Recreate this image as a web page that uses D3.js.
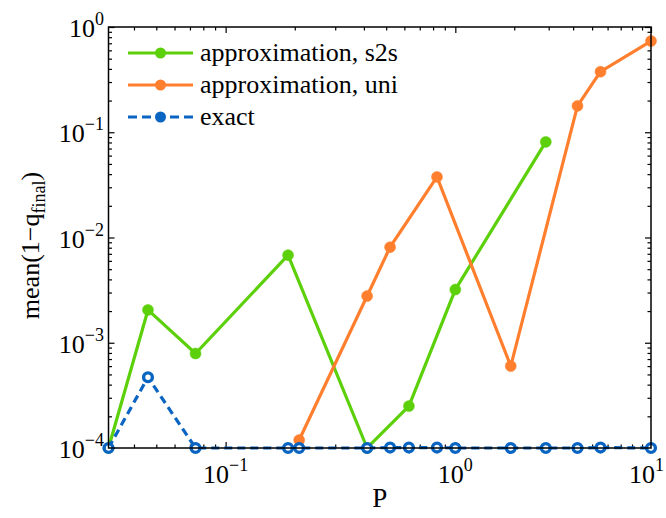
<!DOCTYPE html>
<html><head><meta charset="utf-8">
<script src="https://cdn.jsdelivr.net/npm/d3@7"></script>
<style>
body{margin:0;background:#fff;}
svg{display:block;font-family:"Liberation Serif","DejaVu Serif",serif;}
</style></head>
<body><svg id="c" width="666" height="518"></svg>
<script>
// ---- data ----
const pS2s   = [0.031, 0.046, 0.074, 0.187, 0.413, 0.628, 1.0, 2.9];
const vS2s   = [1.0e-4, 2.05e-3, 7.9e-4, 6.8e-3, 1.0e-4, 2.5e-4, 3.2e-3, 0.081];
const pUni   = [0.209, 0.413, 0.52, 0.832, 1.92, 4.21, 5.52, 10];
const vUni   = [1.19e-4, 2.78e-3, 8.1e-3, 0.0376, 6.0e-4, 0.178, 0.376, 0.736];
const pExact = [0.031, 0.046, 0.074, 0.187, 0.209, 0.413, 0.52, 0.628, 0.832, 1.0, 1.92, 2.9, 4.21, 5.52, 10];
const vExact = [1.0e-4, 4.7e-4, 1.0e-4, 1.0e-4, 1.0e-4, 1.0e-4, 1.01e-4, 1.01e-4, 1.01e-4, 1.0e-4, 1.0e-4, 1.0e-4, 1.0e-4, 1.01e-4, 1.0e-4];
const seriesNames = ["approximation, s2s", "approximation, uni", "exact"];
const xTickValues = [0.1, 1, 10];
const xTickExp = ["\u22121", "0", "1"];
const yTickValues = [1e-4, 1e-3, 1e-2, 1e-1, 1];
const yTickExp = ["\u22124", "\u22123", "\u22122", "\u22121", "0"];
const xDomain = [0.031, 0.1, 1, 10];
const yDomain = [1e-4, 1];

// ---- layout ----
const L = 108.5, R = 651, T = 27, B = 448;
const W = R - L;
const colors = ["#5cd00a", "#ff7f2e", "#0a64c2"];

const svg = d3.select("#c");
const x = d3.scaleLog().domain(xDomain)
  .range([L, L + 0.2159 * W, L + 0.6393 * W, R]);
const y = d3.scaleLog().domain(yDomain).range([B, T]);

function minors(lo, hi) {
  const out = [];
  for (let e = Math.floor(Math.log10(lo)); e <= Math.ceil(Math.log10(hi)); e++)
    for (let k = 2; k <= 9; k++) { const v = k * Math.pow(10, e); if (v > lo && v < hi) out.push(v); }
  return out;
}
const xMin = minors(xDomain[0], xDomain[xDomain.length - 1]);
const yMin = minors(yDomain[0], yDomain[1]);

const gAx = svg.append("g");
function axisG(axis, tf) {
  const g = gAx.append("g").attr("transform", tf).call(axis);
  g.select(".domain").remove();
  g.selectAll("line").attr("stroke", "#000").attr("stroke-width", 1.2);
  g.selectAll("text").remove();
}
axisG(d3.axisBottom(x).tickValues(xTickValues).tickSize(-6), `translate(0,${B})`);
axisG(d3.axisBottom(x).tickValues(xMin).tickSize(-3.5), `translate(0,${B})`);
axisG(d3.axisTop(x).tickValues(xTickValues).tickSize(-6), `translate(0,${T})`);
axisG(d3.axisTop(x).tickValues(xMin).tickSize(-3.5), `translate(0,${T})`);
axisG(d3.axisLeft(y).tickValues(yTickValues).tickSize(-6), `translate(${L},0)`);
axisG(d3.axisLeft(y).tickValues(yMin).tickSize(-3.5), `translate(${L},0)`);
axisG(d3.axisRight(y).tickValues(yTickValues).tickSize(-6), `translate(${R},0)`);
axisG(d3.axisRight(y).tickValues(yMin).tickSize(-3.5), `translate(${R},0)`);

// data lines
const line = d3.line().x(d => x(d[0])).y(d => y(d[1]));
const sets = [
  {p: pS2s, v: vS2s, dash: null, ring: false},
  {p: pUni, v: vUni, dash: null, ring: false},
  {p: pExact, v: vExact, dash: "8,5", ring: true}
];
sets.forEach((s, i) => {
  const pts = s.p.map((p, j) => [p, s.v[j]]);
  const g = svg.append("g");
  g.append("path").attr("d", line(pts)).attr("fill", "none")
    .attr("stroke", colors[i]).attr("stroke-width", 3.2)
    .attr("stroke-dasharray", s.dash);
  g.selectAll("circle").data(pts).enter().append("circle")
    .attr("cx", d => x(d[0])).attr("cy", d => y(d[1]))
    .attr("r", s.ring ? 4.4 : 5.5)
    .attr("fill", s.ring ? "#fff" : colors[i])
    .attr("stroke", colors[i]).attr("stroke-width", s.ring ? 3.4 : 0.5);
});

// box
svg.append("rect").attr("x", L).attr("y", T).attr("width", W).attr("height", B - T)
  .attr("fill", "none").attr("stroke", "#000").attr("stroke-width", 1.5);

// tick labels
const fs = 26;
xTickValues.forEach((v, i) => {
  const last = i === xTickValues.length - 1;
  const t = svg.append("text").attr("x", last ? 664 : x(v)).attr("y", B + 35)
    .attr("text-anchor", last ? "end" : "middle").attr("font-size", fs);
  t.append("tspan").text("10");
  t.append("tspan").attr("dy", -12).attr("font-size", 18).text(xTickExp[i]);
});
yTickValues.forEach((v, i) => {
  const t = svg.append("text").attr("x", 104).attr("y", y(v) + 10)
    .attr("text-anchor", "end").attr("font-size", fs);
  t.append("tspan").text("10");
  t.append("tspan").attr("dy", -12).attr("font-size", 18).text(yTickExp[i]);
});

// axis titles
svg.append("text").attr("x", (L + R) / 2).attr("y", 507).attr("text-anchor", "middle")
  .attr("font-size", 27).text("P");
const yl = svg.append("text").attr("transform", `translate(39,${(T + B) / 2 + 8}) rotate(-90)`)
  .attr("text-anchor", "middle").attr("font-size", 26);
yl.append("tspan").text("mean(1\u2212q");
yl.append("tspan").attr("dy", 6).attr("font-size", 18).text("final");
yl.append("tspan").attr("dy", -6).text(")");

// legend
seriesNames.forEach((n, i) => {
  const ly = 53 + i * 32;
  const g = svg.append("g");
  g.append("line").attr("x1", 128).attr("x2", 193).attr("y1", ly).attr("y2", ly)
    .attr("stroke", colors[i]).attr("stroke-width", 3.2)
    .attr("stroke-dasharray", sets[i].dash ? "9,5" : null);
  g.append("circle").attr("cx", 160.5).attr("cy", ly).attr("r", 5.5).attr("fill", colors[i]);
  g.append("text").attr("x", 200).attr("y", ly + 8).attr("font-size", 26).text(n);
});
</script></body></html>
